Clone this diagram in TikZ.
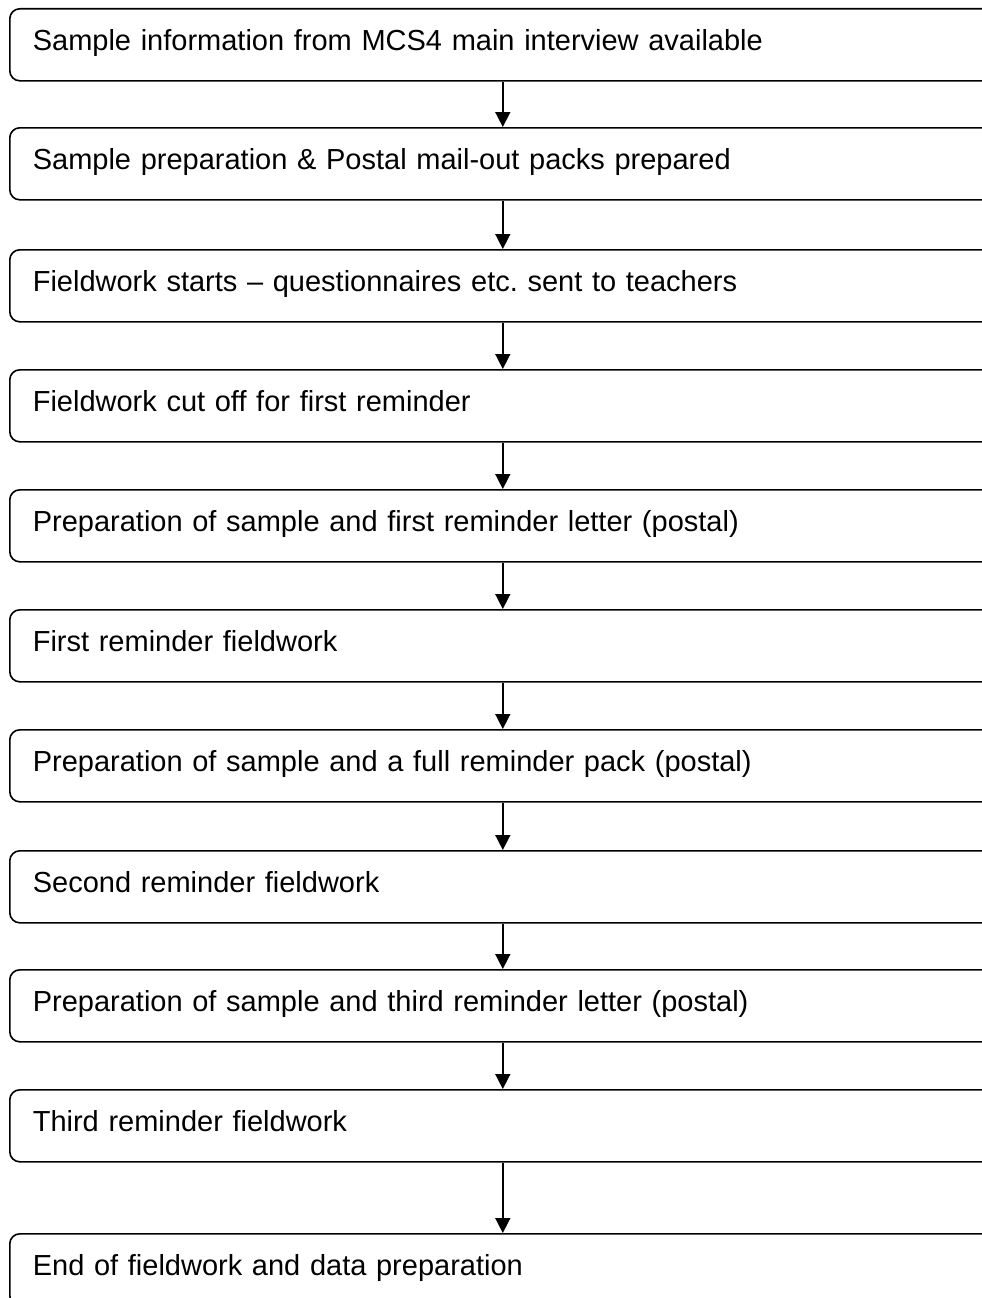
\documentclass[tikz,border=0pt]{standalone}
\usepackage{fontspec}
\setmainfont{Liberation Sans}
\frenchspacing
\usetikzlibrary{arrows.meta}
\tikzset{
	stepbox/.style={draw, line width=1.6pt, rounded corners=10pt, anchor=north west,
		minimum height=72pt, text width=940pt, inner xsep=23pt, align=left,
		text height=22pt, text depth=10pt},
}
\begin{document}
\begin{tikzpicture}[x=1pt,y=1pt,>={Triangle[width=15pt,length=15pt]}, font=\fontsize{29}{33}\selectfont, line join=round]
	\useasboundingbox (0,0) rectangle (982,-1298);
	\clip (0,0) rectangle (982,-1298);
	% boxes
	\node[stepbox] (s1) at (9,-8) {Sample information from MCS4 main interview available};
	\node[stepbox] (s2) at (9,-127) {Sample preparation \& Postal mail-out packs prepared};
	\node[stepbox] (s3) at (9,-249) {Fieldwork starts -- questionnaires etc. sent to teachers};
	\node[stepbox] (s4) at (9,-369) {Fieldwork cut off for first reminder};
	\node[stepbox] (s5) at (9,-489) {Preparation of sample and first reminder letter (postal)};
	\node[stepbox] (s6) at (9,-609) {First reminder fieldwork};
	\node[stepbox] (s7) at (9,-729) {Preparation of sample and a full reminder pack (postal)};
	\node[stepbox] (s8) at (9,-850) {Second reminder fieldwork};
	\node[stepbox] (s9) at (9,-969) {Preparation of sample and third reminder letter (postal)};
	\node[stepbox] (s10) at (9,-1089) {Third reminder fieldwork};
	\node[stepbox] (s11) at (9,-1233) {End of fieldwork and data preparation};
	% arrows
	\foreach \a/\b in {s1/s2,s2/s3,s3/s4,s4/s5,s5/s6,s6/s7,s7/s8,s8/s9,s9/s10,s10/s11}
		\draw[->, line width=1.6pt] (\a) -- (\b);
\end{tikzpicture}
\end{document}
